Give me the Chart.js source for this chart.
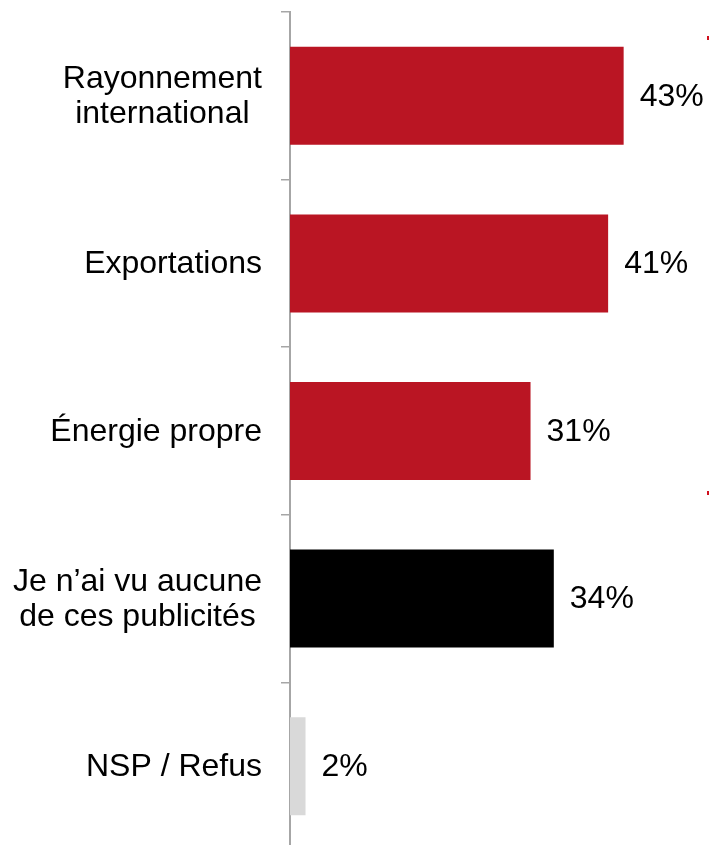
<!DOCTYPE html>
<html>
<head>
<meta charset="utf-8">
<script src="https://cdn.jsdelivr.net/npm/chart.js@4/dist/chart.umd.min.js"></script>
<style>
  html, body { margin: 0; padding: 0; background: #fff; overflow: hidden; }
  #wrap { position: relative; width: 709px; height: 850px; }
</style>
</head>
<body>
<div id="wrap"><canvas id="chart-canvas"></canvas></div>
<script>
// chart data
const categories = [
    ["Rayonnement", "international"],
    ["Exportations"],
    ["Énergie propre"],
    ["Je n’ai vu aucune", "de ces publicités"],
    ["NSP / Refus"]
];
const values = [43, 41, 31, 34, 2];
const barColors = ["#BA1523", "#BA1523", "#BA1523", "#000000", "#D9D9D9"];

const FONT = "32px 'Liberation Sans', Arial, sans-serif";
const AXIS_GREY = "#A6A6A6";

// category labels: block right aligned, lines centred inside the block
const categoryLabels = {
    id: "categoryLabels",
    afterDraw(chart) {
        const ctx = chart.ctx;
        const yScale = chart.scales.y;
        const rightEdge = 262;
        const lineHeight = 35;
        ctx.save();
        ctx.font = FONT;
        ctx.fillStyle = "#000";
        ctx.textAlign = "center";
        ctx.textBaseline = "middle";
        categories.forEach(function(lines, i) {
            const yMid = yScale.getPixelForValue(i);
            let widest = 0;
            lines.forEach(l => { widest = Math.max(widest, ctx.measureText(l).width); });
            const cx = rightEdge - widest / 2;
            const top = yMid - (lines.length - 1) * lineHeight / 2;
            lines.forEach(function(l, j) {
                ctx.fillText(l, cx, top + j * lineHeight + 1);
            });
        });
        // small red marks at the right edge
        ctx.fillStyle = "#D0101E";
        ctx.fillRect(707, 36, 2, 4);
        ctx.fillRect(707, 491, 2, 4);
        ctx.restore();
    }
};

// value labels to the right of each bar
const valueLabels = {
    id: "valueLabels",
    afterDatasetsDraw(chart) {
        const ctx = chart.ctx;
        const meta = chart.getDatasetMeta(0);
        ctx.save();
        ctx.font = FONT;
        ctx.fillStyle = "#000";
        ctx.textAlign = "left";
        ctx.textBaseline = "middle";
        meta.data.forEach(function(bar, i) {
            ctx.fillText(values[i] + "%", bar.x + 16, bar.y + 1);
        });
        ctx.restore();
    }
};

const chart = new Chart(document.getElementById("chart-canvas"), {
    type: "bar",
    data: {
        labels: categories,
        datasets: [{
            data: values,
            backgroundColor: barColors,
            borderWidth: 0,
            categoryPercentage: 0.585,
            barPercentage: 1
        }]
    },
    options: {
        indexAxis: "y",
        responsive: true,
        maintainAspectRatio: false,
        animation: false,
        layout: { padding: { top: 12, bottom: 0, left: 0, right: 0 } },
        plugins: {
            legend: { display: false },
            tooltip: { enabled: false }
        },
        scales: {
            x: {
                display: false,
                min: 0,
                max: 54
            },
            y: {
                afterFit(scale) { scale.width = 290; },
                ticks: { display: false },
                grid: {
                    offset: true,
                    drawOnChartArea: false,
                    drawTicks: true,
                    tickLength: 9,
                    color: AXIS_GREY,
                    lineWidth: 1.5
                },
                border: { display: true, color: AXIS_GREY, width: 2 }
            }
        }
    },
    plugins: [categoryLabels, valueLabels]
});
</script>
</body>
</html>
